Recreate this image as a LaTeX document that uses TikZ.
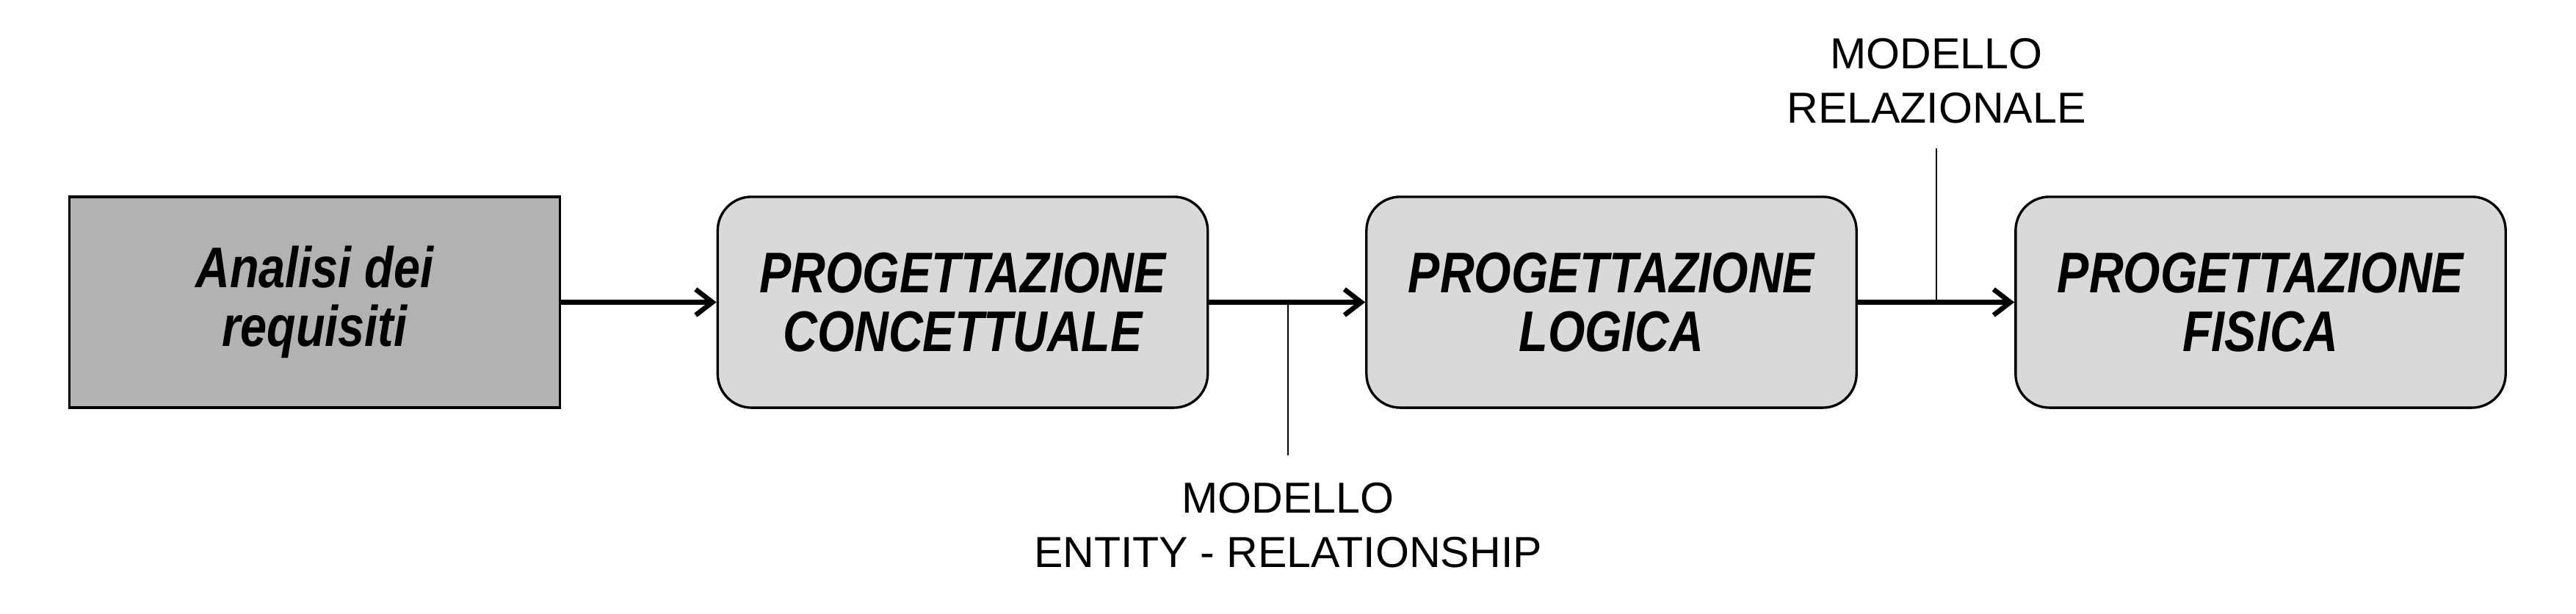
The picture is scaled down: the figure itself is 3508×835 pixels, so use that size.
\documentclass[tikz,border=0pt]{standalone}
\usepackage{fontspec}
\setmainfont{Liberation Sans}
\newfontfamily\boxfont[FakeStretch=0.83]{Liberation Sans}
\usetikzlibrary{arrows.meta}
\definecolor{darkbox}{HTML}{B2B2B2}
\definecolor{lightbox}{HTML}{D9D9D9}
\begin{document}
\begin{tikzpicture}[x=0.01cm,y=-0.01cm,
  box/.style={draw=black, line width=0.95pt, minimum width=6.67cm, minimum height=2.87cm,
    align=center, inner sep=0pt,
    font=\boxfont\bfseries\itshape\fontsize{22.2}{22.8}\selectfont},
  phase/.style={box, fill=lightbox, rounded corners=0.46cm},
  start/.style={box, fill=darkbox},
  arr/.style={line width=1.9pt, -{Straight Barb[length=6.5pt,width=10pt]}},
  tick/.style={line width=0.6pt},
  lbl/.style={align=center, inner sep=0pt, font=\fontsize{16.8}{21}\selectfont}]
\useasboundingbox (0,0) rectangle (3508,835);
\node[start] (b1) at (428.5,411.5) {Analisi dei\\requisiti};
\node[phase] (b2) at (1311,411.5) {\raisebox{-1.2pt}{PROGETTAZIONE}\\\raisebox{-1.2pt}{CONCETTUALE}};
\node[phase] (b3) at (2194.5,411.5) {\raisebox{-1.2pt}{PROGETTAZIONE}\\\raisebox{-1.2pt}{LOGICA}};
\node[phase] (b4) at (3078.5,411.5) {\raisebox{-1.2pt}{PROGETTAZIONE}\\\raisebox{-1.2pt}{FISICA}};
\draw[arr] (b1.east) -- (b2.west);
\draw[arr] (b2.east) -- (b3.west);
\draw[arr] (b3.east) -- (b4.west);
\coordinate (j1) at (1754,411.5);
\coordinate (e1) at (1754,620);
\coordinate (j2) at (2637,411.5);
\coordinate (e2) at (2637,202);
\draw[tick] (j1) -- (e1);
\draw[tick] (j2) -- (e2);
\node[lbl] (l1) at (1754,715) {MODELLO\\ENTITY - RELATIONSHIP};
\node[lbl] (l2) at (2637,110) {MODELLO\\RELAZIONALE};
\end{tikzpicture}
\end{document}
